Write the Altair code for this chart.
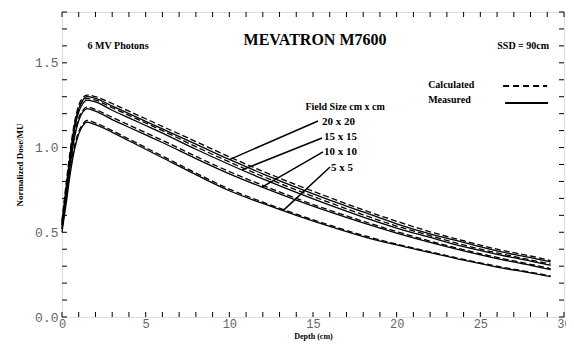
import altair as alt
import pandas as pd

depth = [0, 0.25, 0.5, 0.75, 1.0, 1.25, 1.5, 2, 3, 4, 5, 6, 8, 10, 12, 14, 16, 18, 20, 22, 24, 26, 28, 29.2]

m20 = [0.55, 0.76, 0.96, 1.13, 1.23, 1.28, 1.30, 1.29, 1.245, 1.20, 1.155, 1.11, 1.02, 0.93, 0.845, 0.765, 0.69, 0.62, 0.55, 0.49, 0.44, 0.39, 0.35, 0.325]
c20 = [0.57, 0.79, 0.99, 1.15, 1.25, 1.295, 1.31, 1.30, 1.26, 1.215, 1.17, 1.125, 1.035, 0.945, 0.86, 0.78, 0.705, 0.632, 0.565, 0.503, 0.45, 0.40, 0.36, 0.333]
m15 = [0.54, 0.74, 0.94, 1.11, 1.21, 1.26, 1.28, 1.27, 1.22, 1.175, 1.13, 1.085, 0.99, 0.90, 0.815, 0.735, 0.66, 0.59, 0.525, 0.47, 0.415, 0.37, 0.33, 0.305]
c15 = [0.56, 0.77, 0.97, 1.13, 1.23, 1.275, 1.29, 1.28, 1.235, 1.19, 1.145, 1.10, 1.005, 0.915, 0.83, 0.75, 0.675, 0.603, 0.537, 0.48, 0.425, 0.378, 0.337, 0.312]
m10 = [0.52, 0.71, 0.90, 1.06, 1.16, 1.21, 1.23, 1.215, 1.165, 1.12, 1.075, 1.03, 0.935, 0.845, 0.765, 0.69, 0.62, 0.555, 0.495, 0.44, 0.39, 0.345, 0.305, 0.28]
c10 = [0.54, 0.74, 0.93, 1.08, 1.175, 1.22, 1.24, 1.225, 1.178, 1.133, 1.088, 1.043, 0.948, 0.858, 0.777, 0.70, 0.63, 0.565, 0.504, 0.448, 0.397, 0.352, 0.311, 0.286]
m5 = [0.50, 0.67, 0.85, 0.99, 1.08, 1.13, 1.15, 1.135, 1.09, 1.04, 0.99, 0.94, 0.84, 0.745, 0.67, 0.60, 0.535, 0.475, 0.425, 0.38, 0.335, 0.295, 0.26, 0.238]
c5 = [0.52, 0.70, 0.88, 1.01, 1.095, 1.14, 1.16, 1.145, 1.10, 1.05, 1.0, 0.95, 0.85, 0.755, 0.678, 0.607, 0.542, 0.482, 0.43, 0.385, 0.34, 0.30, 0.264, 0.242]

fields = ["20 x 20", "15 x 15", "10 x 10", "5 x 5"]
measured = [m20, m15, m10, m5]
calculated = [c20, c15, c10, c5]

x_ticks = list(range(0, 31))
y_ticks = [round(i * 0.1, 1) for i in range(0, 19)]
x_labels = [0, 5, 10, 15, 20, 25, 30]
y_labels = [0.0, 0.5, 1.0, 1.5]

# field-size labels and leader lines (data coordinates)
lab_x = [15.54, 15.66, 15.66, 16.08]
lab_y = [1.151, 1.062, 0.974, 0.879]
lead_x1 = [15.30, 15.54, 15.60, 16.02]
lead_y1 = [1.157, 1.056, 0.974, 0.885]
lead_x2 = [10.04, 10.76, 11.95, 13.21]
lead_y2 = [0.93, 0.868, 0.767, 0.628]

W, H = 502, 305
SERIF = "Liberation Serif"
MONO = "Liberation Mono"

rows = []
for f, mv, cv in zip(fields, measured, calculated):
    for d, a, b in zip(depth, mv, cv):
        rows.append({"depth": d, "dose": a, "field": f, "kind": "Measured"})
        rows.append({"depth": d, "dose": b, "field": f, "kind": "Calculated"})
df = pd.DataFrame(rows)

xs = alt.Scale(domain=[0, 30], nice=False, zero=False)
ys = alt.Scale(domain=[0, 1.8], nice=False, zero=False)

base = alt.Chart(df)
meas = base.transform_filter(alt.datum.kind == "Measured").mark_line(
    color="black", strokeWidth=1.3, interpolate="monotone"
).encode(
    x=alt.X("depth:Q", scale=xs, title="Depth (cm)",
            axis=alt.Axis(values=x_labels, ticks=False, domain=False, grid=False,
                          labelFont=MONO, labelFontSize=12, labelColor="#666",
                          labelPadding=1, titleFont=SERIF, titleFontSize=8,
                          titleFontWeight="bold", titlePadding=3, labelFlush=False)),
    y=alt.Y("dose:Q", scale=ys, title="Normalized Dose/MU",
            axis=alt.Axis(values=y_labels, format=".1f", ticks=False, domain=False, grid=False,
                          labelFont=MONO, labelFontSize=13, labelColor="#666",
                          labelPadding=4, titleFont=SERIF, titleFontSize=9,
                          titleFontWeight="bold", titlePadding=10)),
    detail="field:N",
)
calc = base.transform_filter(alt.datum.kind == "Calculated").mark_line(
    color="black", strokeWidth=1.3, strokeDash=[6, 3], interpolate="monotone"
).encode(x=alt.X("depth:Q", scale=xs), y=alt.Y("dose:Q", scale=ys), detail="field:N")

xt = pd.DataFrame({"v": x_ticks})
yt = pd.DataFrame({"v": y_ticks})
tick_b = alt.Chart(xt).mark_rule(color="black", strokeWidth=1).encode(
    x=alt.X("v:Q", scale=xs), y=alt.value(H), y2=alt.value(H - 5))
tick_t = alt.Chart(xt).mark_rule(color="black", strokeWidth=1).encode(
    x=alt.X("v:Q", scale=xs), y=alt.value(0), y2=alt.value(5))
tick_l = alt.Chart(yt).mark_rule(color="black", strokeWidth=1).encode(
    y=alt.Y("v:Q", scale=ys), x=alt.value(0), x2=alt.value(5))
tick_r = alt.Chart(yt).mark_rule(color="black", strokeWidth=1).encode(
    y=alt.Y("v:Q", scale=ys), x=alt.value(W), x2=alt.value(W - 5))

leaders = alt.Chart(pd.DataFrame({"x": lead_x1, "y": lead_y1, "x2": lead_x2, "y2": lead_y2})).mark_rule(
    color="black", strokeWidth=1.5).encode(
    x=alt.X("x:Q", scale=xs), y=alt.Y("y:Q", scale=ys), x2="x2:Q", y2="y2:Q")

field_labels = alt.Chart(pd.DataFrame({"x": lab_x, "y": lab_y, "t": fields})).mark_text(
    font=SERIF, fontSize=11, fontWeight="bold", align="left", baseline="middle", color="black"
).encode(x=alt.X("x:Q", scale=xs), y=alt.Y("y:Q", scale=ys), text="t:N")

notes_t = ["6 MV Photons", "SSD = 90cm", "Field Size cm x cm"]
notes_x = [3.35, 27.56, 16.92]
notes_y = [1.60, 1.60, 1.239]
notes = alt.Chart(pd.DataFrame({"x": notes_x, "y": notes_y, "t": notes_t})).mark_text(
    font=SERIF, fontSize=10, fontWeight="bold", align="center", baseline="middle", color="black"
).encode(x=alt.X("x:Q", scale=xs), y=alt.Y("y:Q", scale=ys), text="t:N")

title = alt.Chart(pd.DataFrame({"x": [15.12], "y": [1.635], "t": ["MEVATRON M7600"]})).mark_text(
    font=SERIF, fontSize=16, fontWeight="bold", align="center", baseline="middle", color="black"
).encode(x=alt.X("x:Q", scale=xs), y=alt.Y("y:Q", scale=ys), text="t:N")

leg_t = ["Calculated", "Measured"]
leg_tx = [21.88, 21.88]
leg_ty = [1.369, 1.281]
leg_text = alt.Chart(pd.DataFrame({"x": leg_tx, "y": leg_ty, "t": leg_t})).mark_text(
    font=SERIF, fontSize=10, fontWeight="bold", align="left", baseline="middle", color="black"
).encode(x=alt.X("x:Q", scale=xs), y=alt.Y("y:Q", scale=ys), text="t:N")

leg_dash = alt.Chart(pd.DataFrame({"x": [26.36], "x2": [28.99], "y": [1.363]})).mark_rule(
    color="black", strokeWidth=2, strokeDash=[6, 4]).encode(
    x=alt.X("x:Q", scale=xs), x2="x2:Q", y=alt.Y("y:Q", scale=ys))
leg_solid = alt.Chart(pd.DataFrame({"x": [26.48], "x2": [29.05], "y": [1.263]})).mark_rule(
    color="black", strokeWidth=2).encode(
    x=alt.X("x:Q", scale=xs), x2="x2:Q", y=alt.Y("y:Q", scale=ys))

chart = alt.layer(
    meas, calc, tick_b, tick_t, tick_l, tick_r, leaders, field_labels, notes, title,
    leg_text, leg_dash, leg_solid
).properties(
    width=W, height=H,
    autosize=alt.AutoSizeParams(type="none"),
    padding={"left": 54, "top": 4, "right": 2, "bottom": 27},
).configure_view(stroke="black", strokeWidth=1.5).configure(background="white")

chart.save("out.html", embed_options={"renderer": "svg", "actions": False})
